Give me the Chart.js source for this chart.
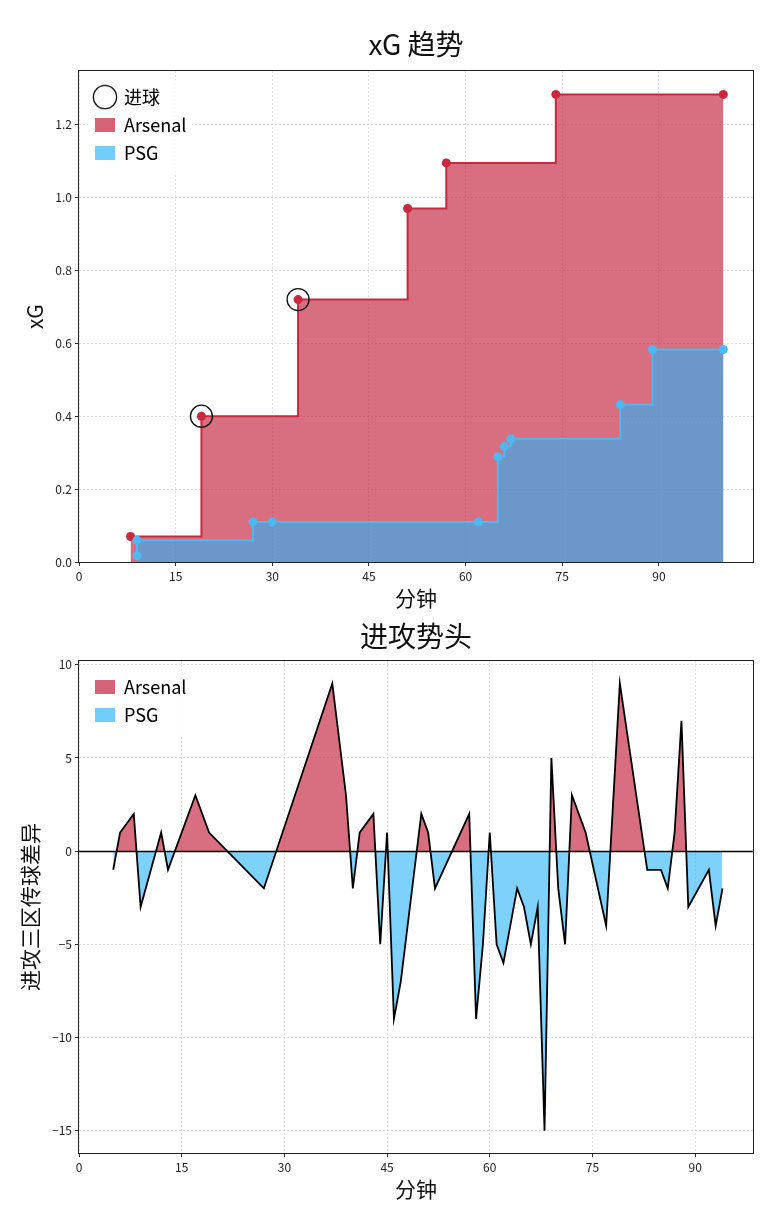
<!DOCTYPE html>
<html>
<head>
<meta charset="utf-8">
<title>xG 趋势 / 进攻势头</title>
<script src="https://cdn.jsdelivr.net/npm/chart.js@4/dist/chart.umd.min.js"></script>
<style>
  html, body { margin: 0; padding: 0; background: #fff; }
  #wrap { position: relative; width: 774px; height: 1206px; }
  canvas { position: absolute; left: 0; }
  #xgChart { top: 0; }
  #momentumChart { top: 615px; }
</style>
</head>
<body>
<div id="wrap">
  <canvas id="xgChart" width="774" height="615"></canvas>
  <canvas id="momentumChart" width="774" height="591"></canvas>
</div>
<script>
// Cumulative xG, one point per shot (plus the final whistle)
let arsenalShotMin = [8, 19, 34, 51, 57, 74, 100];
let arsenalXg = [0.07, 0.40, 0.72, 0.97, 1.095, 1.283, 1.283];
let psgShotMin = [9, 9, 27, 30, 62, 65, 66, 67, 84, 89, 100];
let psgXg = [0.017, 0.06, 0.11, 0.11, 0.11, 0.289, 0.317, 0.338, 0.432, 0.583, 0.583];
let goalMin = [19, 34];
let goalXg = [0.40, 0.72];

// Final third pass difference (Arsenal - PSG) by minute
let momentumMin = [5, 6, 8, 9, 12, 13, 17, 19, 27, 37,
  39, 40, 41, 43, 44, 45, 46, 47, 50, 51,
  52, 57, 58, 59, 60, 61, 62, 64, 65, 66,
  67, 68, 69, 70, 71, 72, 74, 77, 79, 83,
  85, 86, 87, 88, 89, 92, 93, 94];
let momentumDiff = [-1, 1, 2, -3, 1, -1, 3, 1, -2, 9,
  3, -2, 1, 2, -5, 1, -9, -7, 2, 1,
  -2, 2, -9, -5, 1, -5, -6, -2, -3, -5,
  -3, -15, 5, -2, -5, 3, 1, -4, 9, -1,
  -1, -2, 1, 7, -3, -1, -4, -2];

let minuteTicks = [0, 15, 30, 45, 60, 75, 90];
let xgTicks = [0, 0.2, 0.4, 0.6, 0.8, 1.0, 1.2];
let diffTicks = [-15, -10, -5, 0, 5, 10];

const ARSENAL_LINE = "#c9283e";
const ARSENAL_FILL = "rgba(190, 15, 45, 0.6)";
const PSG_LINE = "#4db8f2";
const PSG_FILL = "rgba(38, 178, 248, 0.6)";
const FONT = "'Noto Sans CJK SC', 'Noto Sans', sans-serif";

Chart.defaults.font.family = FONT;
Chart.defaults.color = "#222";
Chart.defaults.animation = false;

function toPoints(xs, ys) {
  return xs.map((x, i) => ({ x: x, y: ys[i] }));
}

// hollow circle used as the legend marker for goals
function makeRingIcon() {
  let c = document.createElement("canvas");
  c.width = 26;
  c.height = 26;
  let ctx = c.getContext("2d");
  ctx.strokeStyle = "#111";
  ctx.lineWidth = 1.3;
  ctx.beginPath();
  ctx.arc(13, 13, 11.6, 0, Math.PI * 2);
  ctx.stroke();
  return c;
}

// Put the legend just inside the top-left corner, give it a matplotlib-like box,
// and draw the full frame around the plot area
const framePlugin = {
  id: "frame",
  afterLayout(chart) {
    let lg = chart.legend, a = chart.chartArea;
    if (!lg) return;
    lg.left = a.left + 6;
    lg.top = a.top + 7;
    lg.right = lg.left + lg.width;
    lg.bottom = lg.top + lg.height;
  },
  afterDraw(chart) {
    let ctx = chart.ctx, a = chart.chartArea, lg = chart.legend;
    if (lg && lg.columnSizes) {
      ctx.save();
      ctx.fillStyle = "rgba(255, 255, 255, 0.8)";
      ctx.fillRect(lg.left + 2, lg.top + 2, lg.columnSizes[0].width + 16, lg.columnSizes[0].height + 10);
      ctx.restore();
      lg.draw();
    }
    if (chart.options.plugins.frame && chart.options.plugins.frame.zeroLine) {
      let y0 = Math.round(chart.scales.y.getPixelForValue(0)) + 0.5;
      ctx.save();
      ctx.strokeStyle = "#000";
      ctx.lineWidth = 1.5;
      ctx.beginPath();
      ctx.moveTo(a.left, y0);
      ctx.lineTo(a.right, y0);
      ctx.stroke();
      ctx.restore();
    }
    ctx.save();
    ctx.strokeStyle = "#222";
    ctx.lineWidth = 1;
    ctx.strokeRect(Math.round(a.left) - 0.5, Math.round(a.top) - 0.5, Math.round(a.width) + 1, Math.round(a.height) + 1);
    ctx.restore();
  }
};

function axisCommon(tickList, fmt) {
  return {
    type: "linear",
    z: 1,
    afterBuildTicks: axis => { axis.ticks = tickList.map(v => ({ value: v })); },
    ticks: { font: { size: 12 }, color: "#222", padding: 3, callback: fmt },
    grid: { color: "rgba(205, 205, 205, 0.75)", lineWidth: 0.8, tickLength: 4, tickColor: "#333", tickWidth: 1 },
    border: { display: false, dash: [2, 2] }
  };
}

function createCharts() {
  let ring = makeRingIcon();

  // ---- xG trend ----
  let xX = axisCommon(minuteTicks, v => String(v));
  Object.assign(xX, {
    min: 0, max: 104.6,
    afterFit: axis => { axis.height = 53; },
    title: { display: true, text: "分钟", font: { size: 21 }, color: "#111", padding: { top: 0, bottom: 4 } }
  });
  let xY = axisCommon(xgTicks, v => v.toFixed(1));
  Object.assign(xY, {
    min: 0, max: 1.347,
    afterFit: axis => { axis.width = 79; },
    title: { display: true, text: "xG", font: { size: 21 }, color: "#111", padding: { top: 22, bottom: 0 } }
  });

  new Chart(document.getElementById("xgChart"), {
    type: "line",
    data: {
      datasets: [
        {
          label: "Arsenal",
          data: toPoints(arsenalShotMin, arsenalXg),
          stepped: true,
          borderColor: ARSENAL_LINE,
          borderWidth: 2,
          backgroundColor: ARSENAL_FILL,
          fill: "origin",
          pointRadius: 4.5,
          pointBorderWidth: 0,
          pointBackgroundColor: ARSENAL_LINE,
          order: 2
        },
        {
          label: "PSG",
          data: toPoints(psgShotMin, psgXg),
          stepped: true,
          borderColor: PSG_LINE,
          borderWidth: 2,
          backgroundColor: PSG_FILL,
          fill: "origin",
          pointRadius: 4.5,
          pointBorderWidth: 0,
          pointBackgroundColor: PSG_LINE,
          order: 1
        },
        {
          type: "scatter",
          label: "进球",
          data: toPoints(goalMin, goalXg),
          pointRadius: 11,
          pointBorderWidth: 1.3,
          pointBorderColor: "#111",
          borderColor: "#111",
          pointBackgroundColor: "rgba(0,0,0,0)",
          backgroundColor: "rgba(0,0,0,0)",
          order: 0
        }
      ]
    },
    options: {
      responsive: false,
      layout: { padding: { left: 0, right: 21, top: 0, bottom: 0 } },
      scales: { x: xX, y: xY },
      plugins: {
        title: {
          display: true, fullSize: false, text: "xG 趋势",
          font: { size: 28, weight: "normal" }, color: "#111",
          padding: { top: 27.5, bottom: 10 }
        },
        tooltip: { enabled: false },
        legend: {
          position: "chartArea",
          align: "start",
          labels: {
            usePointStyle: true,
            pointStyleWidth: 20,
            boxHeight: 14,
            padding: 10,
            font: { size: 18 },
            color: "#111",
            generateLabels: () => [
              { text: "进球", pointStyle: ring, fillStyle: "rgba(0,0,0,0)", strokeStyle: "#111", lineWidth: 0, datasetIndex: 2 },
              { text: "Arsenal", pointStyle: "rect", fillStyle: ARSENAL_FILL, strokeStyle: ARSENAL_FILL, lineWidth: 0, datasetIndex: 0 },
              { text: "PSG", pointStyle: "rect", fillStyle: PSG_FILL, strokeStyle: PSG_FILL, lineWidth: 0, datasetIndex: 1 }
            ]
          }
        }
      }
    },
    plugins: [framePlugin]
  });

  // ---- attacking momentum ----
  let mX = axisCommon(minuteTicks, v => String(v));
  Object.assign(mX, {
    min: 0, max: 98.45,
    afterFit: axis => { axis.height = 53; },
    title: { display: true, text: "分钟", font: { size: 21 }, color: "#111", padding: { top: 0, bottom: 4 } }
  });
  let mY = axisCommon(diffTicks, v => String(v).replace("-", "\u2212"));
  Object.assign(mY, {
    min: -16.2, max: 10.2,
    afterFit: axis => { axis.width = 79; },
    title: { display: true, text: "进攻三区传球差异", font: { size: 21 }, color: "#111", padding: { top: 17, bottom: 0 } }
  });

  new Chart(document.getElementById("momentumChart"), {
    type: "line",
    data: {
      datasets: [{
        label: "进攻势头",
        data: toPoints(momentumMin, momentumDiff),
        borderColor: "#000",
        borderWidth: 1.8,
        pointRadius: 0,
        fill: { target: "origin", above: ARSENAL_FILL, below: PSG_FILL }
      }]
    },
    options: {
      responsive: false,
      layout: { padding: { left: 0, right: 21, top: 0, bottom: 0 } },
      scales: { x: mX, y: mY },
      plugins: {
        frame: { zeroLine: true },
        title: {
          display: true, fullSize: false, text: "进攻势头",
          font: { size: 28, weight: "normal" }, color: "#111",
          padding: { top: 4.5, bottom: 8 }
        },
        tooltip: { enabled: false },
        legend: {
          position: "chartArea",
          align: "start",
          labels: {
            usePointStyle: true,
            pointStyleWidth: 20,
            boxHeight: 14,
            padding: 10,
            font: { size: 18 },
            color: "#111",
            generateLabels: () => [
              { text: "Arsenal", pointStyle: "rect", fillStyle: ARSENAL_FILL, strokeStyle: ARSENAL_FILL, lineWidth: 0, datasetIndex: 0 },
              { text: "PSG", pointStyle: "rect", fillStyle: PSG_FILL, strokeStyle: PSG_FILL, lineWidth: 0, datasetIndex: 0 }
            ]
          }
        }
      }
    },
    plugins: [framePlugin]
  });
}

createCharts();
</script>
</body>
</html>
